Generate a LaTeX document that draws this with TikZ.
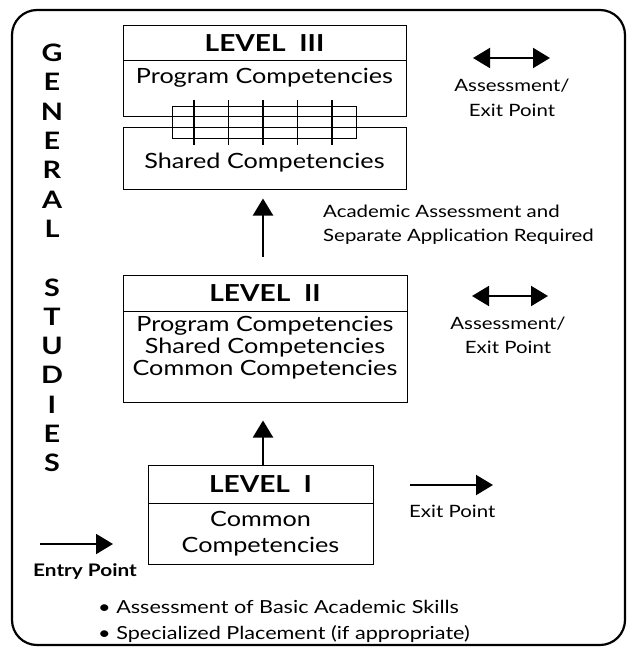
\documentclass[tikz,border=0pt]{standalone}
\usepackage{fontspec}
\setmainfont[FakeStretch=1.2]{Lato}
\usetikzlibrary{arrows.meta,positioning}

\tikzset{
	lvlhead/.style={draw, line width=1pt, inner sep=0pt, font=\bfseries\fontsize{23.4}{24}\selectfont},
	lvlbody/.style={draw, line width=1pt, inner sep=0pt},
	boxtext/.style={align=center, inner sep=0pt, font=\fontsize{21}{22}\selectfont},
	note/.style={align=center, inner sep=0pt, font=\fontsize{17}{24.5}\selectfont},
	vletter/.style={inner sep=0pt, font=\bfseries\fontsize{24}{24}\selectfont},
	flow/.style={line width=2pt, -{Triangle[length=17pt,width=20pt]}},
	twoway/.style={line width=2pt, {Triangle[length=17pt,width=20pt]}-{Triangle[length=17pt,width=20pt]}},
}

\begin{document}
\begin{tikzpicture}[x=1pt, y=-1pt]
	%\draw[help lines] (0,0) grid (627,647);
	\useasboundingbox (0,0) rectangle (627,647);
	\draw[line width=2.2pt, rounded corners=25pt] (12,10) rectangle (625,645);
	
	\foreach \c [count=\i] in {G,E,N,E,R,A,L,{},S,T,U,D,I,E,S}
	\node[vletter] (gs\i) at (52, 23.7 + 29.3 * \i) {\c};
	
	% level III
	\node[lvlhead, minimum width=283pt, minimum height=35pt] (l3) at (264.5, 43.5) {LEVEL\ \ III};
	\node[lvlbody, minimum width=283pt, minimum height=56pt] (prog3) at (264.5, 89) {};
	\node[lvlbody, minimum width=283pt, minimum height=61pt] (shared3) at (264.5, 158.5) {};
	\node[boxtext] (prog3t) at (264.5, 78) {Program Competencies};
	\node[boxtext] (shared3t) at (264.5, 163) {Shared Competencies};
	\node[draw, line width=0.8pt, minimum width=184pt, minimum height=32pt, inner sep=0pt] (bridge) at (264, 122) {};
	\foreach \n in {0,...,4}
	\draw[line width=1.6pt] (194 + 34.5 * \n, 100) -- ++(0, 45);
	
	% level II
	\node[lvlhead, minimum width=284pt, minimum height=36pt] (l2) at (265, 293) {LEVEL\ \ II};
	\node[lvlbody, minimum width=284pt, minimum height=91pt] (l2body) at (265, 356.5) {};
	\node[boxtext] (l2t) at (265, 348) {Program Competencies\\Shared Competencies\\Common Competencies};
	
	% level I
	\node[lvlhead, minimum width=225pt, minimum height=38pt] (l1) at (260.5, 484) {LEVEL\ \ I};
	\node[lvlbody, boxtext, draw, minimum width=225pt, minimum height=61pt, font=\fontsize{21}{26}\selectfont] (l1body) at (260.5, 533.5) {Common\\Competencies};
	
	\draw[flow, shorten >=18pt] (l1.north -| 263, 0) -- (l2body.south -| 263, 0);
	\draw[flow, shorten <=18pt, shorten >=9pt] (l2.north -| 263, 0) -- (shared3.south -| 263, 0);
	
	% right side
	\coordinate (a3l) at (473, 58);
	\coordinate (a3r) at (550, 58);
	\draw[twoway] (a3l) -- (a3r);
	\node[note] (exit3) at (512, 98) {Assessment/\\Exit Point};
	
	\node[note, align=left, anchor=west] (apply) at (323, 224.5) {Academic Assessment and\\Separate Application Required};
	
	\coordinate (a2l) at (472, 296);
	\coordinate (a2r) at (548, 296);
	\draw[twoway] (a2l) -- (a2r);
	\node[note] (exit2) at (508, 335.5) {Assessment/\\Exit Point};
	
	\coordinate (a1l) at (410, 485);
	\coordinate (a1r) at (493, 485);
	\draw[flow] (a1l) -- (a1r);
	\node[note, anchor=west] (exit1) at (409, 511) {Exit Point};
	
	\coordinate (inl) at (40, 544);
	\coordinate (inr) at (113, 544);
	\draw[flow] (inl) -- (inr);
	\node[note, font=\bfseries\fontsize{17.3}{19}\selectfont] (entry) at (85, 572) {Entry Point};
	
	\node[note, align=left, anchor=west, font=\fontsize{18}{26}\selectfont] (skills) at (98, 621) {• Assessment of Basic Academic Skills\\• Specialized Placement (if appropriate)};
\end{tikzpicture}
\end{document}
